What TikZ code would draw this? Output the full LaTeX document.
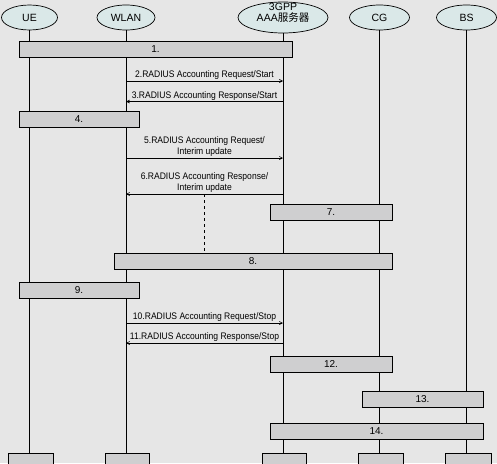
\documentclass[tikz,border=0pt]{standalone}
\usepackage{fontspec}
\setmainfont{Liberation Sans}
\newfontfamily\lblfont[FakeStretch=0.9]{Liberation Sans}
\newfontfamily\cjkfont{Noto Sans CJK SC}
\usetikzlibrary{arrows.meta,shapes.geometric}
\definecolor{bgc}{RGB}{230,230,230}
\definecolor{boxc}{RGB}{207,207,208}
\definecolor{ellc}{RGB}{218,232,232}
\begin{document}
\begin{tikzpicture}[x=1pt,y=-1pt,
 every node/.style={font=\fontsize{10}{11}\selectfont},
 actor/.style={ellipse, draw, fill=ellc, line width=0.7pt, inner sep=0pt, align=center, font=\fontsize{10.5}{11}\selectfont},
 stepbox/.style={draw, fill=boxc, line width=0.8pt, minimum height=16pt, inner sep=0pt},
 endbox/.style={draw, fill=boxc, line width=0.8pt, minimum height=20pt, inner sep=0pt, anchor=north},
 life/.style={line width=0.7pt},
 msg/.style={line width=0.6pt, -{Straight Barb[length=3pt,width=3pt]}},
 lbl/.style={align=center, inner sep=1pt, font=\lblfont\fontsize{9.5}{11}\selectfont}
]
\fill[bgc] (0,0) rectangle (497,463);
\useasboundingbox (0,0) rectangle (497,463);

% actors
\node[actor, minimum width=56pt, minimum height=25pt] (ue) at (29.5,17.5) {UE};
\node[actor, minimum width=58pt, minimum height=25pt] (wlan) at (126,17.5) {WLAN};
\node[actor, minimum width=90pt, minimum height=31pt, text height=7pt, text depth=0pt] (aaa) at (283,17.5) {3GPP\\AAA{\cjkfont\fontsize{10.5}{11}\selectfont 服务器}};
\node[actor, minimum width=60pt, minimum height=25pt] (cg) at (379.5,17.5) {CG};
\node[actor, minimum width=60pt, minimum height=25pt] (bs) at (466.5,17.5) {BS};

% end boxes
\node[endbox, minimum width=45pt] (eue) at (30.5,453) {};
\node[endbox, minimum width=44pt] (ewlan) at (127,453) {};
\node[endbox, minimum width=44pt] (eaaa) at (284,453) {};
\node[endbox, minimum width=45pt] (ecg) at (380.5,453) {};
\node[endbox, minimum width=46pt] (ebs) at (468,453) {};

% lifelines
\draw[life] (ue.south) -- (ue.south |- eue.north);
\draw[life] (wlan.south) -- (wlan.south |- ewlan.north);
\draw[life] (aaa.south) -- (aaa.south |- eaaa.north);
\draw[life] (cg.south) -- (cg.south |- ecg.north);
\draw[life] (bs.south) -- (bs.south |- ebs.north);

% step boxes
\node[stepbox, minimum width=273pt] (b1) at (155.5,49.5) {1.};
\node[stepbox, minimum width=120pt] (b4) at (79,119) {4.};
\node[stepbox, minimum width=122pt] (b7) at (331,212.5) {7.};
\node[stepbox, minimum width=278pt] (b8) at (253,261) {8.};
\node[stepbox, minimum width=120pt] (b9) at (79,290) {9.};
\node[stepbox, minimum width=122pt] (b12) at (331,364) {12.};
\node[stepbox, minimum width=121pt] (b13) at (422.5,399) {13.};
\node[stepbox, minimum width=213pt] (b14) at (376.5,431) {14.};

% message coordinates
\coordinate (w2) at (126,81);   \coordinate (a2) at (283,81);
\coordinate (w3) at (126,101.5);\coordinate (a3) at (283,101.5);
\coordinate (w5) at (126,158);  \coordinate (a5) at (283,158);
\coordinate (w6) at (126,194);  \coordinate (a6) at (283,194);
\coordinate (w10) at (126,323); \coordinate (a10) at (283,323);
\coordinate (w11) at (126,343); \coordinate (a11) at (283,343);
\coordinate (d6) at (204,194);

\draw[msg] (w2) -- node[lbl, above] (l2) {2.RADIUS Accounting Request/Start} (a2);
\draw[msg] (a3) -- node[lbl, above] (l3) {3.RADIUS Accounting Response/Start} (w3);
\draw[msg] (w5) -- node[lbl, above] (l5) {5.RADIUS Accounting Request/\\Interim update} (a5);
\draw[msg] (a6) -- node[lbl, above] (l6) {6.RADIUS Accounting Response/\\Interim update} (w6);
\draw[msg] (w10) -- node[lbl, above] (l10) {10.RADIUS Accounting Request/Stop} (a10);
\draw[msg] (a11) -- node[lbl, above] (l11) {11.RADIUS Accounting Response/Stop} (w11);

\draw[line width=0.6pt, dashed] (d6) -- (d6 |- b8.north);
\end{tikzpicture}
\end{document}
